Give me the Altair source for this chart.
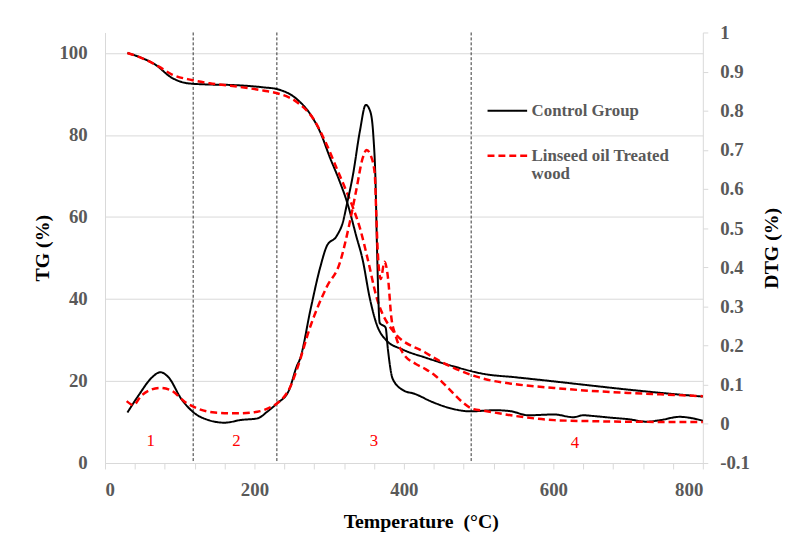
import altair as alt
import pandas as pd

# ---- data ----
series_names = ["Control Group", "Linseed oil Treated wood"]

tg_ctrl_T = [30, 49, 67, 89, 111, 140, 168, 213, 230, 257, 275, 288, 301, 314, 325, 336, 345, 354, 363, 376, 398, 429, 464, 508, 550, 601, 650, 700, 750, 800]
tg_ctrl_v = [100, 98.8, 97.2, 94, 92.6, 92.3, 92.2, 91.6, 91.2, 88.7, 85, 80.7, 74.5, 68.7, 63, 55.5, 49.4, 40.5, 34.1, 30, 27.7, 25.7, 23.7, 21.7, 20.9, 19.9, 18.9, 17.9, 17.0, 16.2]

tg_lin_T = [30, 50, 71, 89, 116, 140, 168, 213, 230, 257, 279, 297, 310, 323, 332, 341, 352, 363, 385, 429, 464, 508, 550, 601, 650, 700, 750, 800]
tg_lin_v = [100, 98.7, 96.8, 94.8, 93.4, 92.6, 92, 90.8, 90.2, 88, 83.9, 77.5, 71.9, 66.3, 62.2, 57.4, 49.4, 40.7, 32.3, 26.9, 23.4, 20.5, 19.2, 18.3, 17.6, 17.1, 16.7, 16.3]

dtg_ctrl_T = [30, 45, 63, 74, 85, 102, 120, 138, 160, 182, 204, 217, 230, 246, 257, 261, 275, 288, 297, 310, 319, 323, 332, 341, 349, 355, 359, 362, 364, 367.6, 375.5, 378.6, 385, 400, 414, 438, 464, 489, 522, 544, 566, 601, 627, 640, 654, 676, 700, 725, 743, 769, 787, 800]
dtg_ctrl_v = [0.029, 0.073, 0.119, 0.132, 0.119, 0.064, 0.027, 0.010, 0.003, 0.010, 0.014, 0.031, 0.052, 0.085, 0.149, 0.166, 0.292, 0.40, 0.455, 0.48, 0.52, 0.555, 0.638, 0.747, 0.815, 0.798, 0.739, 0.62, 0.45, 0.258, 0.246, 0.19, 0.115, 0.085, 0.077, 0.056, 0.039, 0.032, 0.035, 0.032, 0.022, 0.024, 0.017, 0.022, 0.02, 0.016, 0.012, 0.0055, 0.0096, 0.018, 0.014, 0.008]

dtg_lin_T = [29, 38, 49, 74, 89, 107, 124, 147, 178, 204, 222, 230, 248, 257, 275, 297, 314, 327, 336, 345, 350, 356, 361, 363, 365, 369, 374, 379, 383, 389, 398, 416, 429, 442, 460, 478, 491, 509, 550, 601, 650, 698, 750, 800]
dtg_lin_v = [0.058, 0.048, 0.073, 0.092, 0.085, 0.056, 0.039, 0.029, 0.027, 0.031, 0.043, 0.052, 0.095, 0.14, 0.25, 0.351, 0.41, 0.51, 0.595, 0.68, 0.70, 0.684, 0.638, 0.537, 0.44, 0.37, 0.414, 0.368, 0.275, 0.225, 0.183, 0.153, 0.14, 0.123, 0.09, 0.056, 0.039, 0.033, 0.02, 0.0096, 0.007, 0.0055, 0.005, 0.005]

boundaries_T = [118, 230, 490]
region_T = [61, 176, 360, 629]
region_y = [5.3, 5.3, 5.3, 4.8]
region_lbl = ["1", "2", "3", "4"]

# ---- tables ----
def mk(T, v, s, kind):
    return pd.DataFrame({"T": T, "value": v, "series": s, "kind": kind})

tg_df = pd.concat([mk(tg_ctrl_T, tg_ctrl_v, series_names[0], "TG"),
                   mk(tg_lin_T, tg_lin_v, series_names[1], "TG")])
dtg_df = pd.concat([mk(dtg_ctrl_T, dtg_ctrl_v, series_names[0], "DTG"),
                    mk(dtg_lin_T, dtg_lin_v, series_names[1], "DTG")])
bnd_df = pd.DataFrame({"T": boundaries_T})
reg_df = pd.DataFrame({"T": region_T, "value": region_y, "lbl": region_lbl})

FONT = "Liberation Serif"
GRAY = "#595959"
LINE = "#d9d9d9"

x_axis = alt.Axis(values=list(range(0, 801, 40)),
                  labelExpr="datum.value % 200 == 0 ? format(datum.value, 'd') : ''",
                  labelOverlap=False,
                  title="Temperature\u00a0 (\u00b0C)", titleX=319, grid=False,
                  tickSize=6, tickColor=LINE, domainColor=LINE,
                  labelPadding=12, titlePadding=12)
x_enc = alt.X("T:Q", scale=alt.Scale(domain=[0, 800], nice=False, zero=False), axis=x_axis)

color_enc = alt.Color("series:N", scale=alt.Scale(domain=series_names, range=["#000000", "#ff0000"]),
                      legend=alt.Legend(orient="none", legendX=385, legendY=58, title=None,
                                        symbolType="stroke", symbolSize=1600, symbolStrokeWidth=2,
                                        labelFont=FONT, labelFontSize=17, labelFontWeight="bold",
                                        labelColor=GRAY, labelOffset=3, rowPadding=16, padding=0,
                                        labelLimit=300,
                                        labelExpr="datum.label == 'Linseed oil Treated wood' ? ['Linseed oil Treated', 'wood'] : datum.label"))
dash_enc = alt.StrokeDash("series:N", scale=alt.Scale(domain=series_names, range=[[1, 0], [7, 4]]), legend=None)
width_enc = alt.StrokeWidth("series:N", scale=alt.Scale(domain=series_names, range=[2, 2.5]), legend=None)

tg_y = alt.Y("value:Q", scale=alt.Scale(domain=[0, 105], nice=False),
             axis=alt.Axis(values=[0, 20, 40, 60, 80, 100], title="TG (%)", grid=True,
                           gridColor=LINE, ticks=False, domainColor=LINE,
                           labelPadding=18, titlePadding=7))

tg_lines = alt.Chart(tg_df).mark_line(interpolate="monotone").encode(
    x=x_enc, y=tg_y, color=color_enc, strokeDash=dash_enc, strokeWidth=width_enc)

rules = alt.Chart(bnd_df).mark_rule(color="#333333", strokeWidth=1, strokeDash=[3, 2]).encode(x=x_enc)

labels = alt.Chart(reg_df).mark_text(color="#ff0000", font=FONT, fontSize=17).encode(
    x=x_enc, y=tg_y, text="lbl:N")

left = alt.layer(rules, tg_lines, labels)

dtg_y = alt.Y("value:Q", scale=alt.Scale(domain=[-0.1, 1], nice=False, zero=False),
              axis=alt.Axis(orient="right", values=[-0.1, 0, 0.1, 0.2, 0.3, 0.4, 0.5, 0.6, 0.7, 0.8, 0.9, 1],
                            labelExpr="datum.value < 0 ? '-' + format(-datum.value, '.1~f') : format(datum.value, '.1~f')",
                            title="DTG (%)", titleAngle=270, grid=False, tickSize=5,
                            tickColor=LINE, domainColor=LINE, labelPadding=12, titlePadding=32))

dtg_lines = alt.Chart(dtg_df).mark_line(interpolate="monotone").encode(
    x=x_enc, y=dtg_y, color="series:N", strokeDash="series:N", strokeWidth="series:N")

chart = alt.layer(left, dtg_lines).resolve_scale(y="independent").properties(
    width=604, height=435,
    autosize=alt.AutoSizeParams(type="none"),
    padding={"left": 98, "top": 22, "right": 80, "bottom": 70},
).configure_axis(
    labelFont=FONT, labelFontSize=19, labelFontWeight="bold", labelColor=GRAY,
    titleFont=FONT, titleFontSize=20, titleFontWeight="bold", titleColor="#000000",
).configure_axisX(labelOverlap=False).configure_view(stroke="transparent")

chart.save("out.html", embed_options={"renderer": "svg", "actions": False})
